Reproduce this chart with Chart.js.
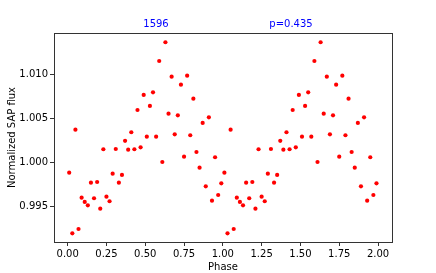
<!DOCTYPE html>
<html>
<head>
<meta charset="utf-8">
<script src="https://cdn.jsdelivr.net/npm/chart.js@4/dist/chart.umd.min.js"></script>
<style>
  html,body{margin:0;padding:0;background:#fff;}
  #wrap{width:436px;height:273px;position:relative;}
</style>
</head>
<body>
<div id="wrap"><canvas id="lc"></canvas></div>
<script>
(function(){
'use strict';

// folded phase (first cycle) and normalized flux
const phase = [0.01,0.03,0.05,0.07,0.09,0.11,0.13,0.15,0.17,0.19,
               0.21,0.23,0.25,0.27,0.29,0.31,0.33,0.35,0.37,0.39,
               0.41,0.43,0.45,0.47,0.49,0.51,0.53,0.55,0.57,0.59,
               0.61,0.63,0.65,0.67,0.69,0.71,0.73,0.75,0.77,0.79,
               0.81,0.83,0.85,0.87,0.89,0.91,0.93,0.95,0.97,0.99];
const flux = [0.99882,0.99193,1.00370,0.99242,0.99598,0.99549,0.99511,0.99768,0.99591,0.99776,
              0.99473,1.00148,0.99609,0.99557,0.99870,1.00151,0.99768,0.99856,1.00244,1.00143,
              1.00341,1.00148,1.00594,1.00170,1.00765,1.00291,1.00640,1.00795,1.00291,1.01151,
              1.00003,1.01364,1.00552,1.00973,1.00318,1.00534,1.00882,1.00064,1.00984,1.00307,
              1.00723,1.00117,0.99939,1.00447,0.99727,1.00511,0.99564,1.00057,0.99628,0.99761];
const xTicks = [0,0.25,0.5,0.75,1,1.25,1.5,1.75,2];
const yTicks = [0.995,1.000,1.005,1.010];
const titleLeft = '1596';
const titleRight = 'p=0.435';

// plotted twice: phase and phase+1
const pts = phase.map((p,i)=>({x:p, y:flux[i]}))
  .concat(phase.map((p,i)=>({x:p+1, y:flux[i]})));

const FONT = 'DejaVu Sans';

const frame = {
  id:'frame',
  afterDraw(chart){
    const {ctx, chartArea:a} = chart;
    ctx.save();
    ctx.strokeStyle = '#333';
    ctx.lineWidth = 1;
    ctx.strokeRect(Math.round(a.left)+0.5, Math.round(a.top)+0.5,
                   Math.round(a.right-a.left), Math.round(a.bottom-a.top));
    ctx.fillStyle = '#0000ff';
    ctx.font = '10px "' + FONT + '"';
    ctx.textAlign = 'center';
    ctx.textBaseline = 'alphabetic';
    ctx.fillText(titleLeft, 156, 27);
    ctx.fillText(titleRight, 291, 27);
    ctx.restore();
  }
};

const ctx = document.getElementById('lc').getContext('2d');
new Chart(ctx, {
  type:'scatter',
  data:{ datasets:[{ data: pts, backgroundColor:'#ff0000', borderColor:'#ff0000',
                     pointRadius:2.1, pointBorderWidth:0, pointHoverRadius:2.1 }] },
  options:{
    responsive:true, maintainAspectRatio:false, animation:false,
    layout:{ padding:{ left:0, right:44, top:33, bottom:0 } },
    plugins:{ legend:{display:false}, tooltip:{enabled:false} },
    scales:{
      x:{
        type:'linear', min:-0.088, max:2.090,
        afterBuildTicks(s){ s.ticks = xTicks.map(v=>({value:v})); },
        afterFit(s){ s.height = 31; },
        grid:{ drawOnChartArea:false, drawTicks:true, tickLength:4, color:'#333' },
        border:{ display:true, color:'#333' },
        ticks:{ color:'#000', font:{family:FONT, size:10}, padding:2, maxRotation:0,
                callback:v=>Number(v).toFixed(2) },
        title:{ display:true, text:'Phase', color:'#000', font:{family:FONT, size:10}, padding:{top:0,bottom:0} }
      },
      y:{
        type:'linear', min:0.99094, max:1.01469,
        afterBuildTicks(s){ s.ticks = yTicks.map(v=>({value:v})); },
        afterFit(s){ s.width = 54; },
        grid:{ drawOnChartArea:false, drawTicks:true, tickLength:4, color:'#333' },
        border:{ display:true, color:'#333' },
        ticks:{ color:'#000', font:{family:FONT, size:10}, padding:2,
                callback:v=>Number(v).toFixed(3) },
        title:{ display:true, text:'Normalized SAP flux', color:'#000', font:{family:FONT, size:10}, padding:{top:6,bottom:0} }
      }
    }
  },
  plugins:[frame]
});

})();
</script>
</body>
</html>
